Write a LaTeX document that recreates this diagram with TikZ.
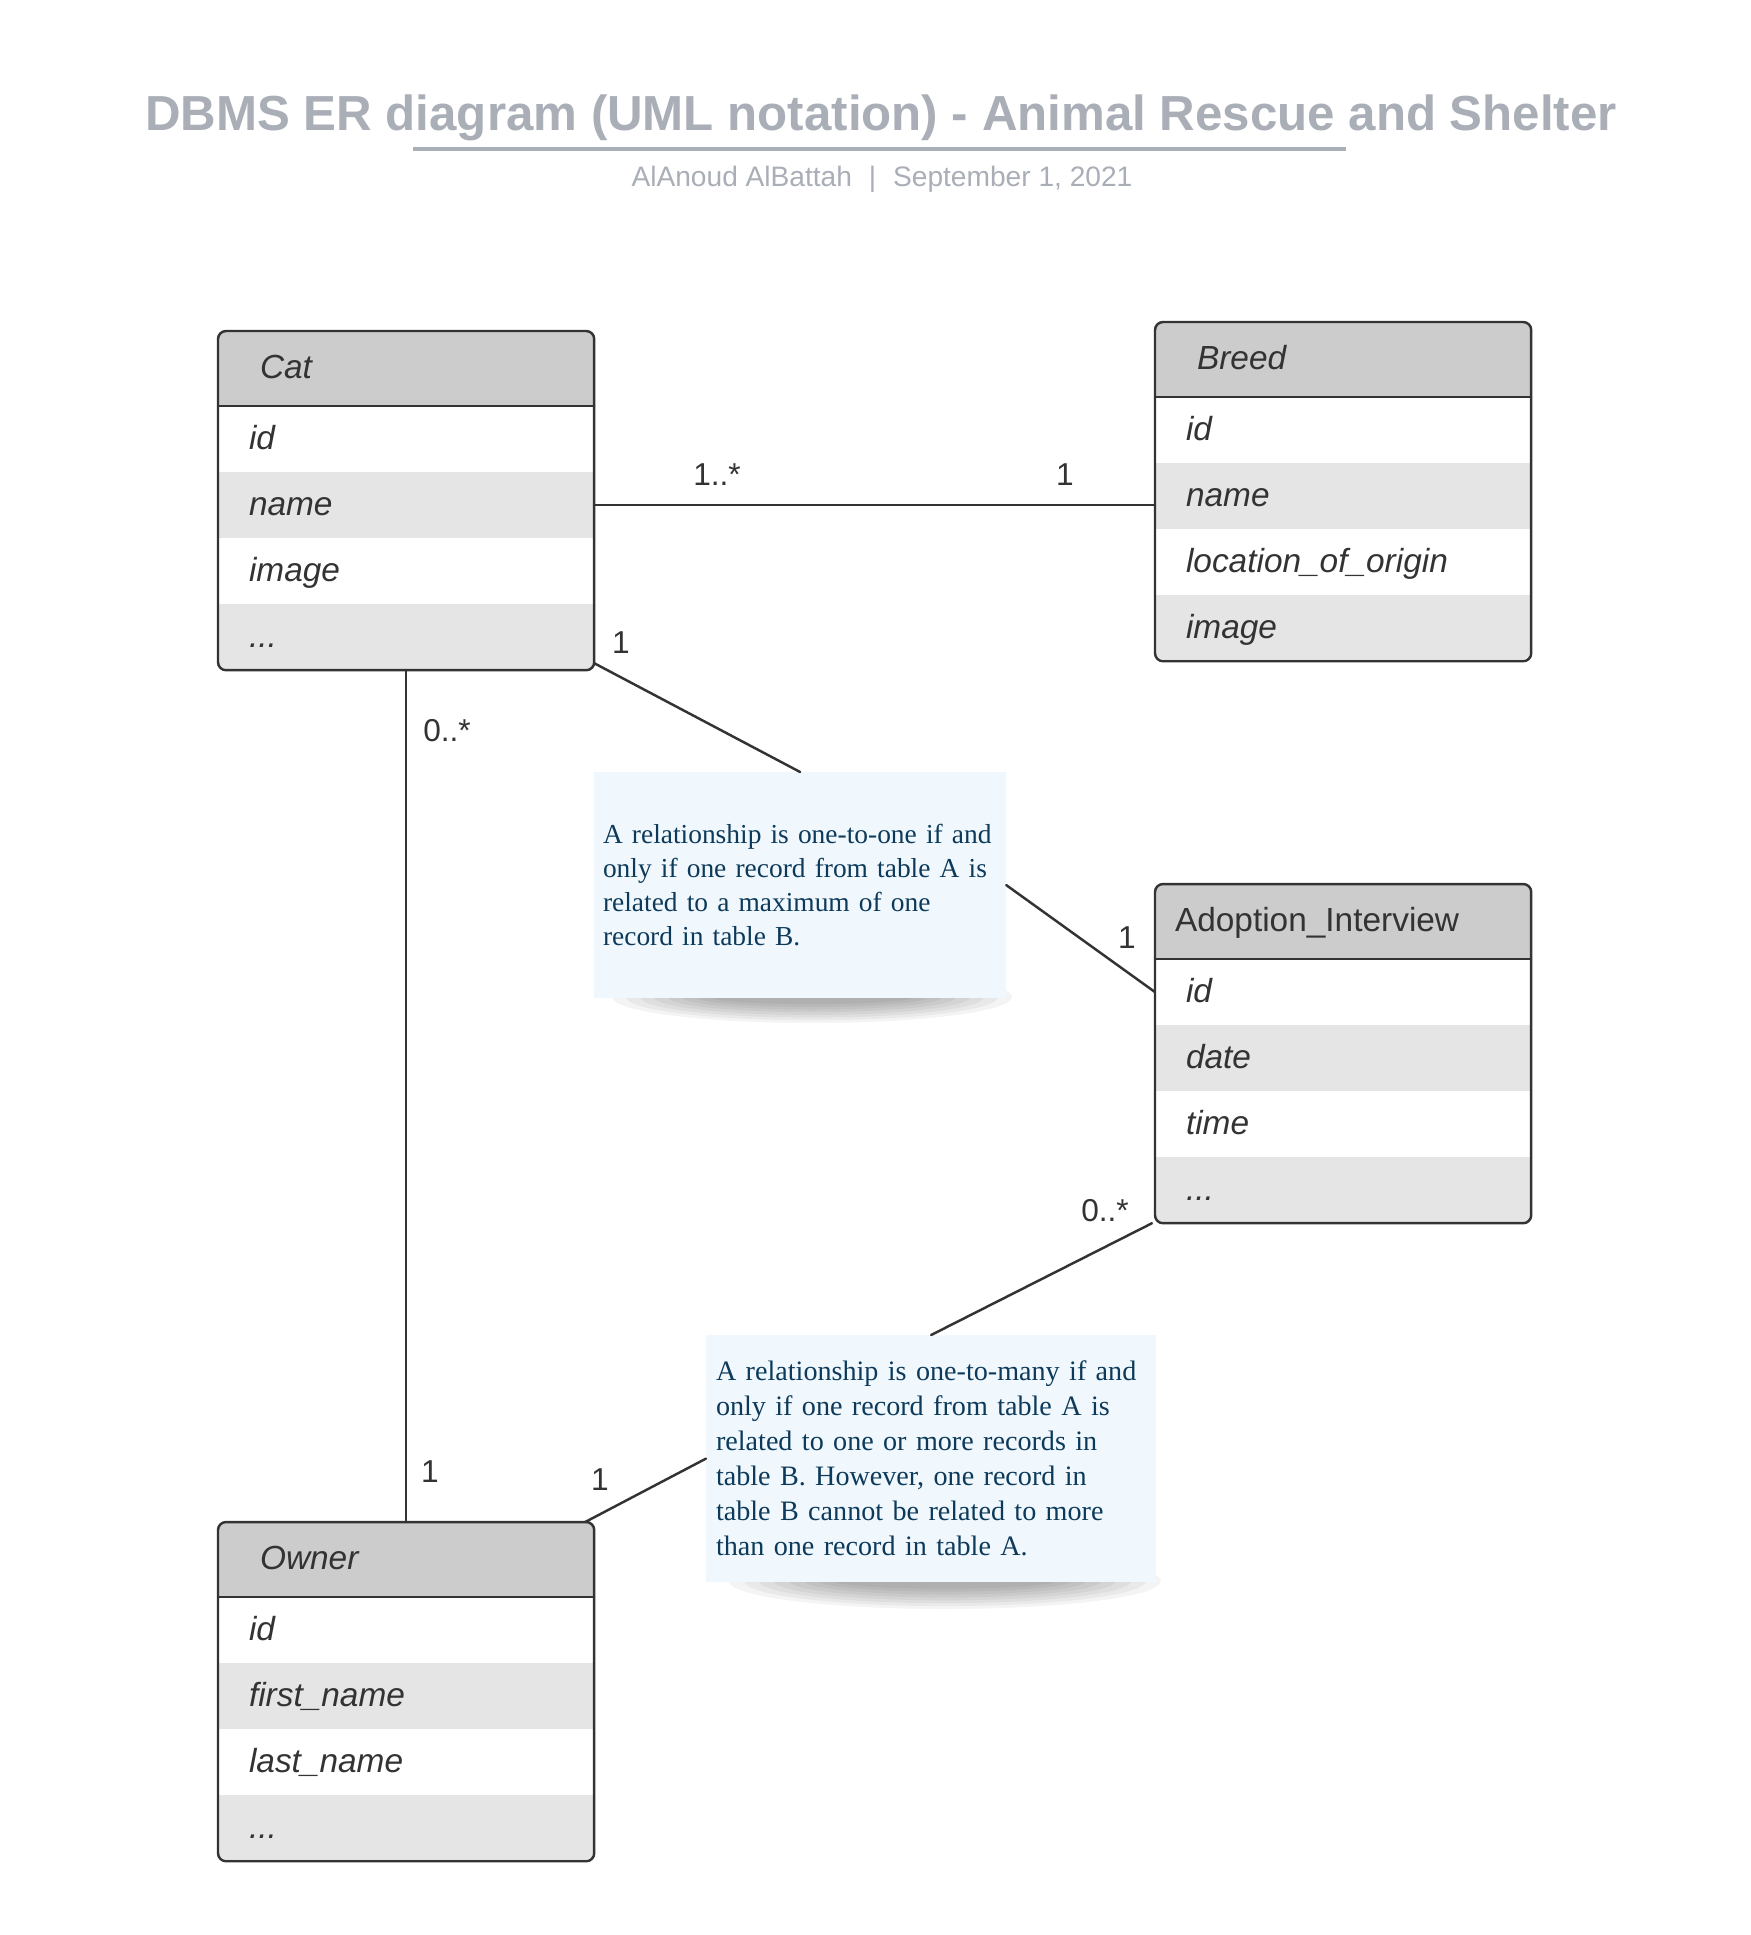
\documentclass[tikz,border=0pt]{standalone}
\usepackage{fontspec}
\setmainfont{Liberation Serif}
\setsansfont{Liberation Sans}
\usepackage{xcolor}
\usetikzlibrary{positioning}

\definecolor{headfill}{HTML}{CCCCCC}
\definecolor{fieldfill}{HTML}{E5E5E5}
\definecolor{inkgray}{HTML}{333333}
\definecolor{titlegray}{HTML}{A9AEB7}
\definecolor{notefill}{HTML}{F0F8FE}
\definecolor{noteink}{HTML}{0D3A5A}

\tikzset{
    attrfont/.style={font=\sffamily\itshape\fontsize{9.5}{11}\selectfont,text=inkgray},
    tablehead/.style={attrfont,anchor=north west,fill=headfill,minimum width=3.76cm,minimum height=0.75cm,outer sep=0pt,
        inner ysep=0pt,inner xsep=0.42cm,text width=2.92cm,align=left,text height=0.716em,text depth=0.15em},
    fieldwhite/.style={attrfont,fill=white,minimum width=3.76cm,minimum height=0.66cm,outer sep=0pt,
        inner ysep=0pt,inner xsep=0.31cm,text width=3.14cm,align=left,text height=0.716em,text depth=0.15em},
    fieldgray/.style={fieldwhite,fill=fieldfill},
    frame/.style={draw=inkgray,line width=0.7pt,rounded corners=0.08cm},
    conn/.style={draw=inkgray,line width=0.7pt},
    mult/.style={font=\sffamily\fontsize{9}{11}\selectfont,text=inkgray,inner sep=0pt,text height=0.716em,text depth=0pt},
    notebox/.style={anchor=north west,fill=notefill,text=noteink,align=left,inner ysep=0pt,outer sep=0pt},
}

\begin{document}
\begin{tikzpicture}[line cap=round,line join=round,x=0.01cm,y=-0.01cm]
    \fill[white] (0,0) rectangle (1751,1935);
    \useasboundingbox (0,0) rectangle (1751,1935);

    % title
    \node[anchor=base,font=\sffamily\bfseries\fontsize{14}{16}\selectfont,text=titlegray] (title) at (881,130)
        {DBMS ER diagram (UML notation) - Animal Rescue and Shelter};
    \draw[titlegray,line width=1.1pt,line cap=butt] (413,149) -- (1346,149);
    \node[anchor=base,font=\sffamily\fontsize{8}{10}\selectfont,text=titlegray] (byline) at (882,186)
        {AlAnoud AlBattah\hspace{0.6em}|\hspace{0.6em}September 1, 2021};

    % Cat
    \begin{scope}
        \clip[rounded corners=0.08cm] (218,331) rectangle (594,669);
        \node[tablehead] (cat-h) at (218,331) {Cat};
        \node[fieldwhite,below=0pt of cat-h] (cat-1) {id};
        \node[fieldgray,below=0pt of cat-1] (cat-2) {name};
        \node[fieldwhite,below=0pt of cat-2] (cat-3) {image};
        \node[fieldgray,below=0pt of cat-3] (cat-4) {...};
    \end{scope}
    \draw[frame] (cat-h.north west) rectangle (cat-4.south east);
    \draw[conn] (cat-h.south west) -- (cat-h.south east);

    % Breed
    \begin{scope}
        \clip[rounded corners=0.08cm] (1155,322) rectangle (1531,659);
        \node[tablehead] (breed-h) at (1155,322) {Breed};
        \node[fieldwhite,below=0pt of breed-h] (breed-1) {id};
        \node[fieldgray,below=0pt of breed-1] (breed-2) {name};
        \node[fieldwhite,below=0pt of breed-2] (breed-3) {location\_of\_origin};
        \node[fieldgray,below=0pt of breed-3] (breed-4) {image};
    \end{scope}
    \draw[frame] (breed-h.north west) rectangle (breed-4.south east);
    \draw[conn] (breed-h.south west) -- (breed-h.south east);

    % Adoption_Interview
    \begin{scope}
        \clip[rounded corners=0.08cm] (1155,884) rectangle (1531,1222);
        \node[tablehead,font=\sffamily\fontsize{9.5}{11}\selectfont,inner xsep=0.2cm,text width=3.36cm] (adopt-h) at (1155,884) {Adoption\_Interview};
        \node[fieldwhite,below=0pt of adopt-h] (adopt-1) {id};
        \node[fieldgray,below=0pt of adopt-1] (adopt-2) {date};
        \node[fieldwhite,below=0pt of adopt-2] (adopt-3) {time};
        \node[fieldgray,below=0pt of adopt-3] (adopt-4) {...};
    \end{scope}
    \draw[frame] (adopt-h.north west) rectangle (adopt-4.south east);
    \draw[conn] (adopt-h.south west) -- (adopt-h.south east);

    % Owner
    \begin{scope}
        \clip[rounded corners=0.08cm] (218,1522) rectangle (594,1859);
        \node[tablehead] (owner-h) at (218,1522) {Owner};
        \node[fieldwhite,below=0pt of owner-h] (owner-1) {id};
        \node[fieldgray,below=0pt of owner-1] (owner-2) {first\_name};
        \node[fieldwhite,below=0pt of owner-2] (owner-3) {last\_name};
        \node[fieldgray,below=0pt of owner-3] (owner-4) {...};
    \end{scope}
    \draw[frame] (owner-h.north west) rectangle (owner-4.south east);
    \draw[conn] (owner-h.south west) -- (owner-h.south east);

    % notes with soft shadows
    \foreach \k in {0,...,7}
        \fill[black,opacity=0.045] (812,997) ellipse ({200-14*\k} and {26-2.7*\k});
    \foreach \k in {0,...,7}
        \fill[black,opacity=0.045] (945,1581) ellipse ({216-15*\k} and {28-2.9*\k});
    \node[notebox,minimum width=4.12cm,minimum height=2.26cm,inner xsep=0.09cm,text width=3.94cm,
        font=\rmfamily\fontsize{7.8}{9.65}\selectfont] (note1) at (594,772)
        {A relationship is one-to-one if and\\only if one record from table A is\\related to a maximum of one\\record in table B.};
    \node[notebox,minimum width=4.5cm,minimum height=2.47cm,inner xsep=0.1cm,text width=4.3cm,
        font=\rmfamily\fontsize{8}{9.95}\selectfont] (note2) at (706,1335)
        {A relationship is one-to-many if and\\only if one record from table A is\\related to one or more records in\\table B. However, one record in\\table B cannot be related to more\\than one record in table A.};

    % connectors
    \draw[conn] (cat-2.east) -- (cat-2.east -| breed-h.west);
    \draw[conn] (cat-4.south) -- (owner-h.north);
    \draw[conn] ([yshift=0.07cm]cat-4.south east) -- (note1.north);
    \draw[conn] (note1.east) -- (adopt-1.west);
    \draw[conn] ([xshift=-0.03cm]adopt-4.south west) -- (note2.north);
    \draw[conn] (note2.west) -- ([xshift=-0.09cm]owner-h.north east);

    % multiplicities
    \node[mult] (m-cat-breed) at (717,473) {1..*};
    \node[mult] (m-breed-cat) at (1065,473) {1};
    \node[mult] (m-cat-adopt) at (621,641) {1};
    \node[mult] (m-cat-owner) at (447,729) {0..*};
    \node[mult] (m-adopt-cat) at (1127,936) {1};
    \node[mult] (m-adopt-owner) at (1105,1209) {0..*};
    \node[mult] (m-owner-cat) at (430,1470) {1};
    \node[mult] (m-owner-adopt) at (600,1478) {1};
\end{tikzpicture}
\end{document}
